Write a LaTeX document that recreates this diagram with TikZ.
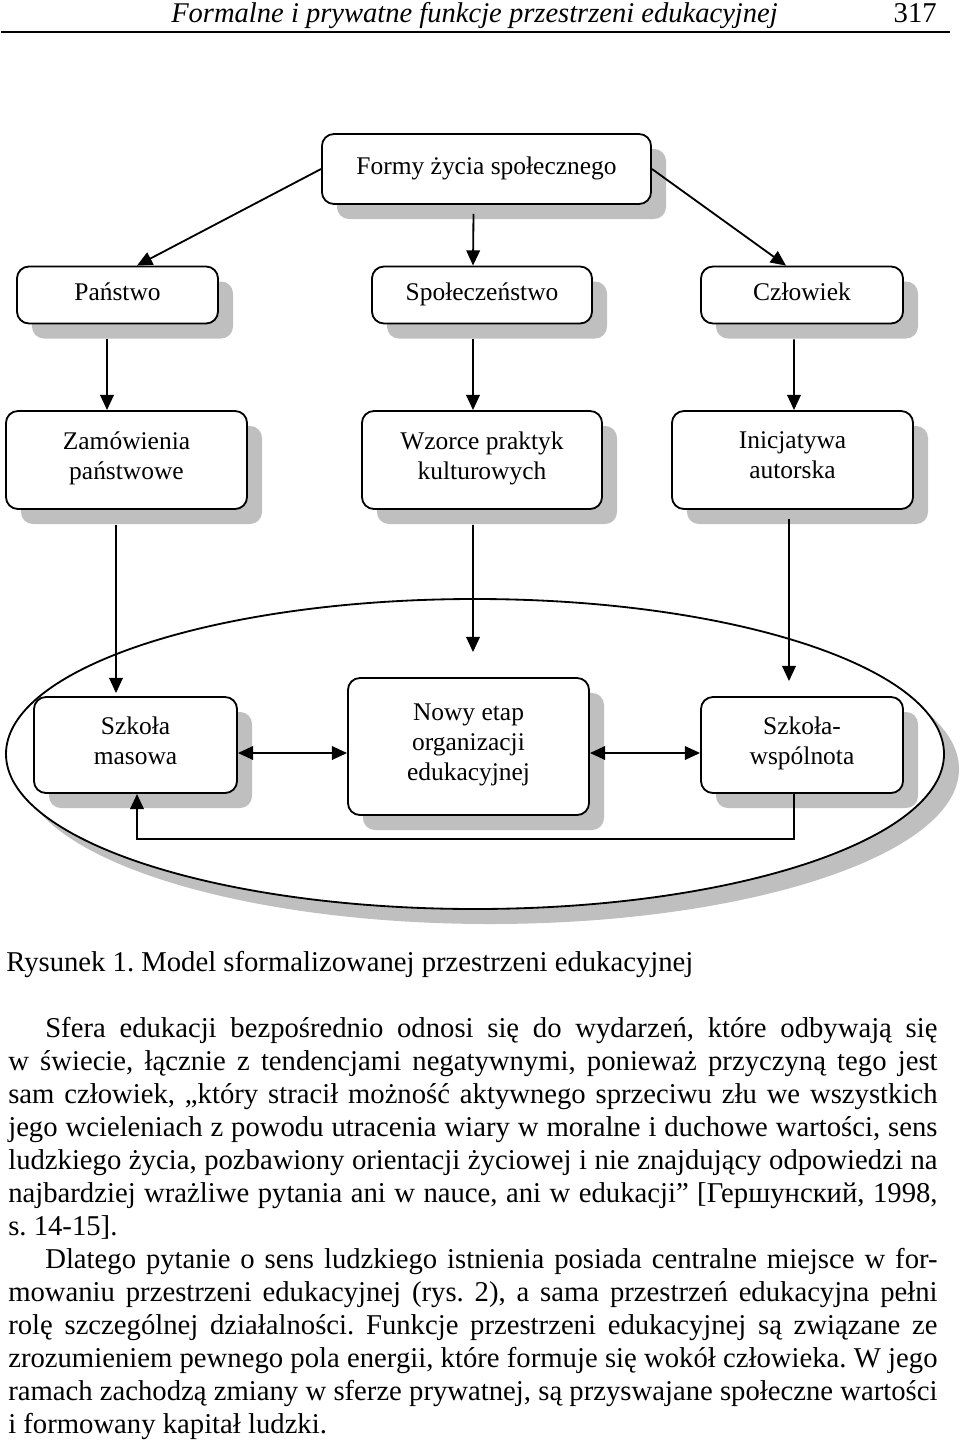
\documentclass[tikz,border=0pt]{standalone}
\usepackage{fontspec}
\setmainfont{Liberation Serif}
\usetikzlibrary{arrows.meta,shadows,calc}
\frenchspacing

\tikzset{
  blok/.style={draw, line width=1.3pt, rounded corners=0.3cm, fill=white, align=center,
    font=\fontsize{18.1}{21.3}\selectfont,
    execute at begin node=\strut, execute at end node=\strut,
    drop shadow={shadow xshift=0.375cm, shadow yshift=-0.375cm, fill=black!25, opacity=1}},
  strz/.style={line width=1.3pt, -{Triangle[length=0.38cm,width=0.34cm]}},
  strz2/.style={line width=1.3pt, {Triangle[length=0.38cm,width=0.34cm]}-{Triangle[length=0.38cm,width=0.34cm]}},
  tekst/.style={inner sep=0pt, font=\fontsize{20.4}{23.55}\selectfont}
}

\begin{document}
\begin{tikzpicture}[x=0.025cm,y=-0.025cm]
\useasboundingbox (0,0) rectangle (960,1440);

% naglowek strony
\node[tekst, anchor=base west, font=\itshape\fontsize{20.3}{24}\selectfont] (tytul) at (171,22) {Formalne i prywatne funkcje przestrzeni edukacyjnej};
\node[tekst, anchor=base east] (nrstr) at (937,22) {317};
\draw[line width=1.4pt] (1,32) -- (950,32);

% elipsa
\fill[black!25] (490,769) ellipse [x radius=469, y radius=155];
\draw[line width=1.3pt, fill=white] (475,754) ellipse [x radius=469, y radius=155];

% bloki
\node[blok, minimum width=8.225cm, minimum height=1.75cm] (formy) at (486.5,169) {Formy życia społecznego};
\node[blok, minimum width=5.025cm, minimum height=1.425cm] (panstwo) at (117.5,295) {Państwo};
\node[blok, minimum width=5.5cm, minimum height=1.425cm] (spol) at (482,295) {Społeczeństwo};
\node[blok, minimum width=5.05cm, minimum height=1.425cm] (czlowiek) at (802,295) {Człowiek};
\node[blok, minimum width=6.025cm, minimum height=2.45cm] (zamow) at (126.5,460) {Zamówienia\\państwowe};
\node[blok, minimum width=6cm, minimum height=2.45cm] (wzorce) at (482,460) {Wzorce praktyk\\kulturowych};
\node[blok, minimum width=6.025cm, minimum height=2.45cm] (inicj) at (792.5,460) {Inicjatywa\\autorska};
\node[blok, minimum width=5.075cm, minimum height=2.4cm] (masowa) at (135.5,745) {Szkoła\\masowa};
\node[blok, minimum width=6.025cm, minimum height=3.425cm] (nowy) at (468.5,746.5) {Nowy etap\\organizacji\\edukacyjnej};
\node[blok, minimum width=5.05cm, minimum height=2.4cm] (wspol) at (802,745) {Szkoła-\\wspólnota};

% strzalki
\draw[strz] (formy.west) -- ($(panstwo.north)+(19.5,0)$);
\draw[strz] ($(formy.south)+(-13,9)$) -- ($(spol.north)+(-9,0)$);
\draw[strz] (formy.east) -- ($(czlowiek.north)+(-16,0)$);
\draw[strz] ($(panstwo.south)+(-10.5,15)$) -- ($(zamow.north)+(-19.5,0)$);
\draw[strz] ($(spol.south)+(-9,15)$) -- ($(wzorce.north)+(-9,0)$);
\draw[strz] ($(czlowiek.south)+(-8,15)$) -- ($(inicj.north)+(1.5,0)$);
\draw[strz] ($(zamow.south)+(-10.5,15)$) -- ($(masowa.north)+(-19.5,-3)$);
\draw[strz] ($(wzorce.south)+(-9,15)$) -- ($(nowy.north)+(4.5,-25)$);
\draw[strz] ($(inicj.south)+(-3.5,9)$) -- ($(wspol.north)+(-13,-15)$);
\draw[strz2] ($(masowa.east)+(0,8)$) -- ($(nowy.west)+(0,6.5)$);
\draw[strz2] ($(nowy.east)+(0,6.5)$) -- ($(wspol.west)+(0,8)$);
\draw[strz] ($(wspol.south)+(-8,0)$) |- ($(masowa.south)+(1.5,45)$) -- ($(masowa.south)+(1.5,0)$);

% podpis i tekst
\node[tekst, anchor=base west] (podpis) at (6,971) {Rysunek 1. Model sformalizowanej przestrzeni edukacyjnej};
\node[tekst, anchor=base west, text width=23.225cm, align=justify] (akapit1) at (8,1037) {\hspace*{0.925cm}Sfera edukacji bezpośrednio odnosi się do wydarzeń, które odbywają się\linebreak
w świecie, łącznie z tendencjami negatywnymi, ponieważ przyczyną tego jest\linebreak
sam człowiek, „który stracił możność aktywnego sprzeciwu złu we wszystkich\linebreak
jego wcieleniach z powodu utracenia wiary w moralne i duchowe wartości, sens\linebreak
ludzkiego życia, pozbawiony orientacji życiowej i nie znajdujący odpowiedzi na\linebreak
najbardziej wrażliwe pytania ani w nauce, ani w edukacji” [Гершунский, 1998,\linebreak
s. 14-15].};
\node[tekst, anchor=base west, text width=23.225cm, align=justify] (akapit2) at (8,1268) {\hspace*{0.925cm}Dlatego pytanie o sens ludzkiego istnienia posiada centralne miejsce w for-\linebreak
mowaniu przestrzeni edukacyjnej (rys. 2), a sama przestrzeń edukacyjna pełni\linebreak
rolę szczególnej działalności. Funkcje przestrzeni edukacyjnej są związane ze\linebreak
zrozumieniem pewnego pola energii, które formuje się wokół człowieka. W jego\linebreak
ramach zachodzą zmiany w sferze prywatnej, są przyswajane społeczne wartości\linebreak
i formowany kapitał ludzki.};

\end{tikzpicture}
\end{document}
